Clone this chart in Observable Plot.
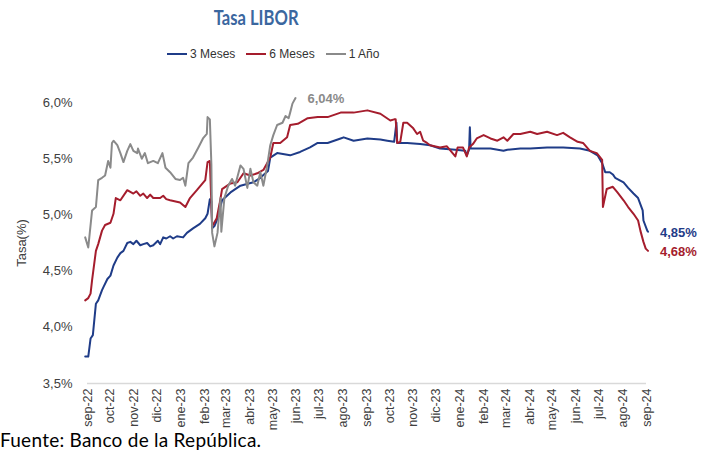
<!DOCTYPE html>
<html><head><meta charset="utf-8">
<script src="https://cdn.jsdelivr.net/npm/d3@7"></script>
<script src="https://cdn.jsdelivr.net/npm/@observablehq/plot@0.6"></script>
<style>
body{margin:0;width:706px;height:451px;overflow:hidden;background:#fff;position:relative;font-family:"Liberation Sans",Arial,sans-serif}
#title{position:absolute;left:0;width:512px;top:5px;text-align:center}
#title span{display:inline-block;font:bold 20px Lato,sans-serif;color:#3b679f;transform:scaleX(0.83)}
#legend{position:absolute;top:46px;left:167px;font-size:12px;color:#333;display:flex;align-items:center;height:16px}
.sw{display:inline-block;width:20px;height:0;border-top:2px solid;margin-right:3px}
.item{display:flex;align-items:center;margin-right:11px}
#chart{position:absolute;top:72px;left:0}
#caption{position:absolute;top:430px;left:0;font:19px Lato,sans-serif;line-height:20px;color:#000;white-space:nowrap;letter-spacing:0.25px}
</style></head><body>
<div id="title"><span>Tasa LIBOR</span></div>
<div id="legend"></div>
<div id="chart"></div>
<div id="caption">Fuente: Banco de la República.</div>
<script>
const seriesNames = ["3 Meses", "6 Meses", "1 Año"];
const seriesColors = ["#1f3c88", "#a51d2d", "#8a8a8a"];
const monthNames = ["ene","feb","mar","abr","may","jun","jul","ago","sep","oct","nov","dic"];
const yTicks = [3.5, 4.0, 4.5, 5.0, 5.5, 6.0];

const dates3m = ["2022-08-29","2022-09-02","2022-09-05","2022-09-08","2022-09-12","2022-09-15","2022-09-20","2022-09-22","2022-09-27","2022-10-01","2022-10-05","2022-10-10","2022-10-14","2022-10-18","2022-10-23","2022-10-27","2022-10-31","2022-11-04","2022-11-09","2022-11-13","2022-11-18","2022-11-22","2022-11-26","2022-12-02","2022-12-05","2022-12-09","2022-12-13","2022-12-18","2022-12-22","2022-12-27","2023-01-04","2023-01-09","2023-01-17","2023-01-26","2023-02-02","2023-02-05","2023-02-08","2023-02-10","2023-02-11","2023-02-14","2023-02-17","2023-02-24","2023-03-07","2023-03-20","2023-04-06","2023-04-15","2023-04-25","2023-04-28","2023-05-07","2023-05-24","2023-06-06","2023-06-19","2023-06-29","2023-07-12","2023-07-29","2023-08-02","2023-08-15","2023-09-02","2023-09-19","2023-09-28","2023-10-07","2023-10-10","2023-10-11","2023-10-24","2023-11-10","2023-11-23","2023-12-06","2023-12-26","2024-01-08","2024-01-10","2024-01-13","2024-01-14","2024-01-15","2024-02-01","2024-02-10","2024-02-27","2024-03-03","2024-03-20","2024-04-02","2024-04-24","2024-05-15","2024-06-06","2024-06-19","2024-06-29","2024-07-05","2024-07-09","2024-07-15","2024-07-19","2024-07-22","2024-08-02","2024-08-08","2024-08-15","2024-08-21","2024-08-27","2024-08-28","2024-09-02","2024-09-03"];
const vals3m = [3.74,3.74,3.90,3.93,4.21,4.24,4.33,4.36,4.43,4.46,4.55,4.62,4.66,4.68,4.75,4.76,4.74,4.77,4.73,4.74,4.75,4.72,4.73,4.77,4.74,4.80,4.79,4.81,4.79,4.81,4.80,4.84,4.88,4.92,4.97,5.01,5.14,5.12,4.88,4.90,4.95,5.13,5.20,5.26,5.29,5.33,5.39,5.51,5.55,5.53,5.56,5.60,5.64,5.64,5.68,5.69,5.66,5.68,5.67,5.66,5.65,5.82,5.64,5.64,5.63,5.62,5.59,5.58,5.57,5.53,5.58,5.78,5.59,5.59,5.59,5.57,5.58,5.59,5.59,5.60,5.60,5.59,5.57,5.53,5.46,5.38,5.38,5.36,5.33,5.29,5.24,5.19,5.15,5.04,4.95,4.86,4.85];

const dates6m = ["2022-08-29","2022-09-02","2022-09-05","2022-09-07","2022-09-12","2022-09-15","2022-09-20","2022-09-24","2022-10-01","2022-10-05","2022-10-08","2022-10-14","2022-10-23","2022-10-31","2022-11-04","2022-11-09","2022-11-13","2022-11-18","2022-11-22","2022-11-26","2022-12-05","2022-12-09","2022-12-13","2022-12-18","2022-12-31","2023-01-07","2023-01-13","2023-01-22","2023-02-02","2023-02-05","2023-02-08","2023-02-11","2023-02-17","2023-02-21","2023-02-24","2023-03-07","2023-03-16","2023-03-24","2023-04-02","2023-04-11","2023-04-19","2023-04-28","2023-05-02","2023-05-11","2023-05-20","2023-05-24","2023-06-03","2023-06-16","2023-06-29","2023-07-12","2023-07-29","2023-08-15","2023-09-02","2023-09-19","2023-10-02","2023-10-07","2023-10-09","2023-10-11","2023-10-15","2023-10-19","2023-10-24","2023-11-01","2023-11-06","2023-11-10","2023-11-14","2023-11-19","2023-11-23","2023-12-06","2023-12-15","2023-12-26","2023-12-29","2024-01-05","2024-01-10","2024-01-13","2024-01-18","2024-01-23","2024-02-01","2024-02-10","2024-02-19","2024-02-27","2024-03-03","2024-03-11","2024-03-20","2024-04-02","2024-04-11","2024-04-24","2024-05-07","2024-05-15","2024-05-24","2024-06-03","2024-06-10","2024-06-19","2024-06-28","2024-07-05","2024-07-06","2024-07-11","2024-07-19","2024-07-25","2024-08-02","2024-08-08","2024-08-15","2024-08-21","2024-08-24","2024-08-28","2024-08-31","2024-09-03"];
const vals6m = [4.24,4.26,4.30,4.42,4.68,4.74,4.86,4.91,4.93,5.01,5.15,5.13,5.22,5.19,5.21,5.17,5.19,5.15,5.18,5.15,5.15,5.17,5.14,5.13,5.11,5.07,5.15,5.22,5.31,5.47,5.48,4.90,4.97,5.11,5.23,5.28,5.29,5.37,5.35,5.37,5.40,5.51,5.64,5.64,5.69,5.80,5.81,5.86,5.87,5.87,5.91,5.91,5.93,5.90,5.84,5.85,5.85,5.64,5.65,5.82,5.82,5.77,5.72,5.74,5.66,5.64,5.62,5.60,5.61,5.52,5.60,5.60,5.52,5.60,5.63,5.68,5.71,5.68,5.66,5.69,5.66,5.72,5.72,5.74,5.72,5.74,5.71,5.73,5.69,5.65,5.64,5.57,5.55,5.49,5.07,5.23,5.25,5.20,5.13,5.07,5.01,4.95,4.86,4.76,4.70,4.68];

const dates1y = ["2022-08-29","2022-09-02","2022-09-07","2022-09-12","2022-09-15","2022-09-20","2022-09-24","2022-09-28","2022-10-01","2022-10-03","2022-10-05","2022-10-10","2022-10-14","2022-10-18","2022-10-23","2022-10-27","2022-10-31","2022-11-05","2022-11-06","2022-11-11","2022-11-15","2022-11-19","2022-11-26","2022-12-02","2022-12-08","2022-12-12","2022-12-18","2022-12-25","2022-12-31","2023-01-04","2023-01-07","2023-01-11","2023-01-17","2023-01-24","2023-01-30","2023-02-04","2023-02-05","2023-02-08","2023-02-10","2023-02-11","2023-02-14","2023-02-18","2023-02-22","2023-02-23","2023-02-27","2023-03-04","2023-03-09","2023-03-13","2023-03-20","2023-03-24","2023-03-29","2023-04-02","2023-04-06","2023-04-11","2023-04-15","2023-04-19","2023-04-24","2023-04-28","2023-05-02","2023-05-07","2023-05-14","2023-05-18","2023-05-22","2023-05-24","2023-05-27","2023-05-31"];
const vals1y = [4.80,4.71,5.04,5.07,5.31,5.33,5.35,5.48,5.42,5.64,5.66,5.62,5.55,5.47,5.57,5.63,5.57,5.55,5.59,5.50,5.55,5.46,5.48,5.46,5.55,5.42,5.38,5.32,5.31,5.33,5.26,5.46,5.51,5.60,5.68,5.72,5.87,5.85,5.45,4.84,4.72,4.84,5.15,4.85,5.15,5.26,5.32,5.26,5.44,5.41,5.24,5.41,5.29,5.26,5.38,5.26,5.44,5.62,5.71,5.80,5.82,5.88,5.86,5.91,5.99,6.04];

const seriesDates = [dates3m, dates6m, dates1y];
const seriesVals = [vals3m, vals6m, vals1y];

const rows = seriesNames.flatMap((name, s) => seriesDates[s].map((d, i) => ({serie: name, date: new Date(d), value: seriesVals[s][i]})));
const lastPts = seriesNames.map((name, s) => ({serie: name, date: new Date(seriesDates[s].at(-1)), value: seriesVals[s].at(-1)}));

const fmtPct1 = v => v.toFixed(1).replace(".", ",") + "%";
const fmtPct2 = v => v.toFixed(2).replace(".", ",") + "%";
const fmtMonth = d => monthNames[d.getUTCMonth()] + "-" + String(d.getUTCFullYear()).slice(2);
const monthTicks = d3.utcMonth.range(new Date("2022-09-01"), new Date("2024-09-02"));

// legend
const leg = document.getElementById("legend");
seriesNames.forEach((n, i) => {
  const it = document.createElement("span"); it.className = "item";
  const sw = document.createElement("span"); sw.className = "sw"; sw.style.borderTopColor = seriesColors[i];
  it.appendChild(sw); it.appendChild(document.createTextNode(n)); leg.appendChild(it);
});

const chart = Plot.plot({
  width: 706, height: 360,
  marginLeft: 87, marginRight: 60, marginTop: 30, marginBottom: 49,
  style: {fontFamily: "Liberation Sans, Arial, sans-serif", fontSize: "13px", color: "#404040", background: "transparent"},
  x: {type: "utc", domain: [new Date("2022-09-01"), new Date("2024-09-01")]},
  y: {domain: [3.5, 6.0]},
  color: {domain: seriesNames, range: seriesColors},
  marks: [
    Plot.ruleY([3.5], {stroke: "#d9d9d9", strokeWidth: 1.5}),
    Plot.axisY({ticks: yTicks, tickSize: 0, tickPadding: 15, tickFormat: fmtPct1, label: "Tasa(%)", labelAnchor: "center", labelOffset: 71, labelArrow: "none", fontSize: 13}),
    Plot.axisX({ticks: monthTicks, tickSize: 0, tickPadding: 5, tickRotate: -90, tickFormat: fmtMonth, label: null, fontSize: 12.5}),
    Plot.line(rows, {x: "date", y: "value", z: "serie", stroke: "serie", strokeWidth: 2}),
    Plot.text(lastPts, {x: "date", y: "value", text: d => fmtPct2(d.value), fill: "serie", dx: 12, dy: 1, textAnchor: "start", fontWeight: "bold", fontSize: 13})
  ]
});
document.getElementById("chart").appendChild(chart);
</script>
</body></html>
